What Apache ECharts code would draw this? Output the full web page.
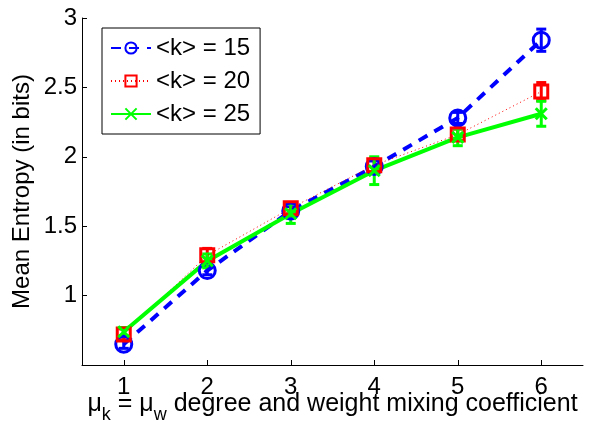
<!DOCTYPE html>
<html>
<head>
<meta charset="utf-8">
<script src="https://cdn.jsdelivr.net/npm/echarts@6/dist/echarts.min.js"></script>
<style>
  html, body { margin: 0; padding: 0; background: #fff; }
  #chart { width: 595px; height: 422px; }
</style>
</head>
<body>
<div id="chart"></div>
<script>
// ---- data ----
const xValues = [1, 2, 3, 4, 5, 6];
const xTickLabels = [1, 2, 3, 4, 5, 6];
const yTickValues = [1, 1.5, 2, 2.5, 3];
const seriesNames = ['<k> = 15', '<k> = 20', '<k> = 25'];
const k15 = [0.65, 1.18, 1.61, 1.93, 2.28, 2.84];
const k20 = [0.72, 1.29, 1.63, 1.94, 2.16, 2.47];
const k25 = [0.74, 1.25, 1.59, 1.90, 2.14, 2.31];
const err15 = [0.03, 0.03, 0.03, 0.04, 0.04, 0.08];
const err20 = [0.04, 0.05, 0.04, 0.05, 0.04, 0.065];
const err25 = [0.03, 0.05, 0.07, 0.10, 0.06, 0.09];

const FONT = 'Liberation Sans, Arial, Helvetica, sans-serif';
const chart = echarts.init(document.getElementById('chart'), null, { renderer: 'canvas' });

function pairs(vals) { return xValues.map((x, i) => [x, vals[i]]); }
function errData(vals, errs) { return xValues.map((x, i) => [x, vals[i] - errs[i], vals[i] + errs[i]]); }

function errSeries(name, vals, errs, color, width) {
  return {
    type: 'custom',
    name: name,
    silent: true,
    data: errData(vals, errs),
    encode: { x: 0, y: [1, 2] },
    renderItem: function (params, api) {
      const x = api.value(0);
      const lo = api.coord([x, api.value(1)]);
      const hi = api.coord([x, api.value(2)]);
      const cw = 5;
      const style = { stroke: color, lineWidth: width, fill: null };
      return {
        type: 'group',
        children: [
          { type: 'line', shape: { x1: lo[0], y1: lo[1], x2: hi[0], y2: hi[1] }, style: style },
          { type: 'line', shape: { x1: lo[0] - cw, y1: lo[1], x2: lo[0] + cw, y2: lo[1] }, style: style },
          { type: 'line', shape: { x1: hi[0] - cw, y1: hi[1], x2: hi[0] + cw, y2: hi[1] }, style: style }
        ]
      };
    }
  };
}

const xMarker = 'path://M0,0L10,10M10,0L0,10';

const option = {
  animation: false,
  backgroundColor: '#ffffff',
  textStyle: { fontFamily: FONT },
  grid: { left: 82, right: 12, top: 18, bottom: 57, containLabel: false, outerBoundsMode: 'none' },
  legend: {
    left: 102, top: 28,
    orient: 'vertical',
    data: seriesNames,
    backgroundColor: '#ffffff',
    borderColor: '#000000',
    borderWidth: 1,
    borderRadius: 0,
    padding: [8, 10, 8, 8],
    itemWidth: 40, itemHeight: 14, itemGap: 9,
    textStyle: { fontFamily: FONT, fontSize: 24, color: '#000', padding: [0, 0, 0, 0] },
    selectedMode: false
  },
  xAxis: {
    type: 'value', min: 0.5, max: 6.5,
    splitLine: { show: false },
    axisLine: { lineStyle: { color: '#000', width: 1 } },
    axisTick: { show: true, inside: true, length: 5, customValues: xTickLabels, lineStyle: { color: '#000' } },
    axisLabel: { customValues: xTickLabels, color: '#000', fontSize: 24, fontFamily: FONT, margin: 10 },
    name: '{m|μ}{s|k}{m| = μ}{s|w}{m| degree and weight mixing coefficient}',
    nameLocation: 'middle', nameGap: 27, nameMoveOverlap: false,
    nameTextStyle: {
      rich: {
        m: { fontSize: 25, fontFamily: FONT, color: '#000', lineHeight: 28, verticalAlign: 'top' },
        s: { fontSize: 18, fontFamily: FONT, color: '#000', lineHeight: 20, padding: [14, 0, 0, 0], verticalAlign: 'top' }
      }
    }
  },
  yAxis: {
    type: 'value', min: 0.5, max: 3, interval: 0.5,
    splitLine: { show: false },
    axisLine: { show: true, lineStyle: { color: '#000', width: 1 } },
    axisTick: { show: true, inside: true, length: 5, lineStyle: { color: '#000' } },
    axisLabel: {
      color: '#000', fontSize: 24, fontFamily: FONT, margin: 5,
      formatter: function (v) { return yTickValues.indexOf(v) >= 0 ? String(v) : ''; }
    },
    name: 'Mean Entropy (in bits)',
    nameLocation: 'middle', nameGap: 48, nameRotate: 90, nameMoveOverlap: false,
    nameTextStyle: { fontSize: 24, fontFamily: FONT, color: '#000' }
  },
  series: [
    {
      type: 'line', name: seriesNames[0], data: pairs(k15),
      symbol: 'circle', symbolSize: 16, showAllSymbol: true,
      lineStyle: { color: '#0000ff', width: 4, type: [10, 8] },
      itemStyle: { color: 'rgba(0,0,0,0)', borderColor: '#0000ff', borderWidth: 3 }
    },
    errSeries(seriesNames[0], k15, err15, '#0000ff', 3),
    {
      type: 'line', name: seriesNames[1], data: pairs(k20),
      symbol: 'rect', symbolSize: 13, showAllSymbol: true,
      lineStyle: { color: '#ff0000', width: 1, type: [1, 3] },
      itemStyle: { color: 'rgba(0,0,0,0)', borderColor: '#ff0000', borderWidth: 3 }
    },
    errSeries(seriesNames[1], k20, err20, '#ff0000', 3),
    {
      type: 'line', name: seriesNames[2], data: pairs(k25),
      symbol: xMarker, symbolSize: 11, showAllSymbol: true,
      lineStyle: { color: '#00ff00', width: 4, type: 'solid' },
      itemStyle: { color: 'rgba(0,0,0,0)', borderColor: '#00ff00', borderWidth: 3 }
    },
    errSeries(seriesNames[2], k25, err25, '#00ff00', 3)
  ]
};
chart.setOption(option);
</script>
</body>
</html>
